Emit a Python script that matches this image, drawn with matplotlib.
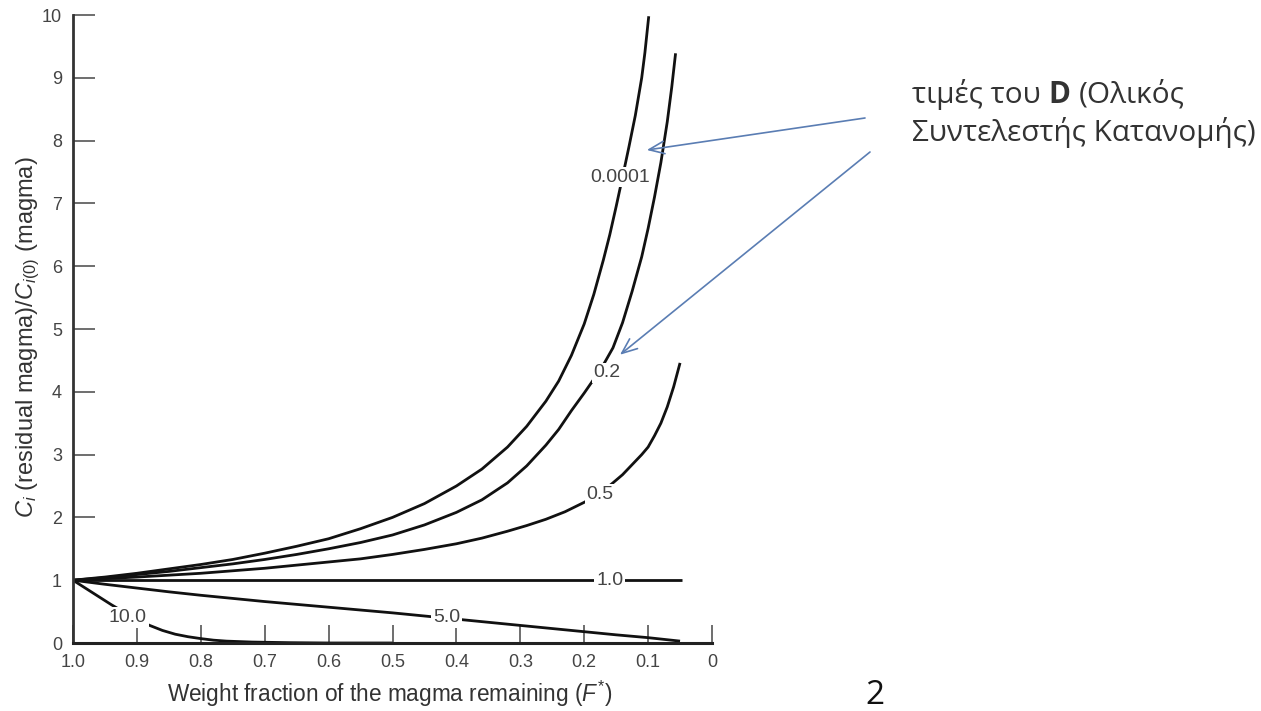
import matplotlib
matplotlib.use("Agg")
import matplotlib.pyplot as plt

# ---------------- data ----------------
F_d00001 = [1.0, 0.95, 0.9, 0.85, 0.8, 0.75, 0.7, 0.65, 0.6, 0.55, 0.5, 0.45, 0.4, 0.36, 0.32,
            0.29, 0.26, 0.24, 0.22, 0.2, 0.185, 0.17, 0.16, 0.15, 0.14, 0.13, 0.12, 0.11, 0.105, 0.099]
C_d00001 = [1.0, 1.05, 1.11, 1.18, 1.25, 1.33, 1.43, 1.54, 1.66, 1.82, 2.0, 2.22, 2.5, 2.77, 3.12,
            3.45, 3.85, 4.17, 4.58, 5.08, 5.55, 6.1, 6.5, 6.95, 7.42, 7.9, 8.4, 9.0, 9.4, 9.98]

F_d02 = [1.0, 0.95, 0.9, 0.85, 0.8, 0.75, 0.7, 0.65, 0.6, 0.55, 0.5, 0.45, 0.4, 0.36, 0.32, 0.29,
         0.26, 0.24, 0.22, 0.2, 0.185, 0.17, 0.155, 0.14, 0.125, 0.11, 0.1, 0.09, 0.08, 0.07, 0.063, 0.057]
C_d02 = [1.0, 1.04, 1.09, 1.14, 1.2, 1.26, 1.33, 1.41, 1.5, 1.6, 1.72, 1.88, 2.08, 2.28, 2.55, 2.82,
         3.15, 3.4, 3.7, 3.98, 4.2, 4.43, 4.7, 5.1, 5.6, 6.15, 6.6, 7.1, 7.65, 8.3, 8.85, 9.39]

F_d05 = [1.0, 0.95, 0.9, 0.85, 0.8, 0.75, 0.7, 0.65, 0.6, 0.55, 0.5, 0.45, 0.4, 0.36, 0.32, 0.29,
         0.26, 0.23, 0.2, 0.175, 0.155, 0.14, 0.125, 0.11, 0.1, 0.09, 0.08, 0.07, 0.06, 0.05]
C_d05 = [1.0, 1.025, 1.05, 1.08, 1.11, 1.15, 1.19, 1.24, 1.29, 1.34, 1.41, 1.49, 1.58, 1.67, 1.78, 1.87,
         1.97, 2.09, 2.24, 2.38, 2.55, 2.68, 2.84, 3.0, 3.12, 3.3, 3.5, 3.76, 4.08, 4.46]

F_d1 = [1.0, 0.047]
C_d1 = [1.0, 1.0]

F_d5 = [1.0, 0.95, 0.9, 0.85, 0.8, 0.75, 0.7, 0.65, 0.6, 0.55, 0.5, 0.45, 0.4, 0.35, 0.3, 0.25,
        0.2, 0.15, 0.1, 0.05]
C_d5 = [1.0, 0.935, 0.875, 0.815, 0.76, 0.71, 0.66, 0.615, 0.57, 0.525, 0.48, 0.43, 0.38, 0.33, 0.28, 0.23,
        0.18, 0.13, 0.085, 0.03]

F_d10 = [1.0, 0.98, 0.96, 0.94, 0.92, 0.9, 0.88, 0.86, 0.84, 0.82, 0.8, 0.78, 0.76, 0.72, 0.66, 0.6, 0.5]
C_d10 = [1.0, 0.87, 0.74, 0.61, 0.49, 0.38, 0.28, 0.2, 0.14, 0.1, 0.07, 0.045, 0.03, 0.015, 0.005, 0.0, 0.0]

curve_labels = ["0.0001", "0.2", "0.5", "1.0", "5.0", "10.0"]
label_F = [0.144, 0.164, 0.175, 0.160, 0.415, 0.914]
label_C = [7.42, 4.30, 2.36, 1.0, 0.41, 0.40]

x_ticks = [1.0, 0.9, 0.8, 0.7, 0.6, 0.5, 0.4, 0.3, 0.2, 0.1, 0.0]
x_ticklabels = ["1.0", "0.9", "0.8", "0.7", "0.6", "0.5", "0.4", "0.3", "0.2", "0.1", "0"]
y_ticks = [0, 1, 2, 3, 4, 5, 6, 7, 8, 9, 10]
y_ticklabels = ["0", "1", "2", "3", "4", "5", "6", "7", "8", "9", "10"]

# arrow tips (data) for the D-values annotation
arrow_tip_F = [0.102, 0.144]
arrow_tip_C = [7.85, 4.59]

# ---------------- figure ----------------
plt.rcParams["mathtext.fontset"] = "custom"
plt.rcParams["mathtext.rm"] = "Liberation Sans"
plt.rcParams["mathtext.it"] = "Liberation Sans:italic"
plt.rcParams["font.family"] = ["Liberation Sans", "DejaVu Sans"]

W, H = 1261, 711
fig = plt.figure(figsize=(W / 100, H / 100), dpi=100)
fig.patch.set_facecolor("white")
ax = fig.add_axes([73 / W, (H - 643) / H, (712 - 73) / W, (643 - 15) / H])

line_kw = dict(color="#111111", lw=2.0, solid_capstyle="butt", solid_joinstyle="round", zorder=2)
for Fv, Cv in [(F_d00001, C_d00001), (F_d02, C_d02), (F_d05, C_d05),
               (F_d1, C_d1), (F_d5, C_d5), (F_d10, C_d10)]:
    ax.plot(Fv, Cv, **line_kw)

for lab, fx, cy in zip(curve_labels, label_F, label_C):
    ax.text(fx, cy, lab, ha="center", va="center", fontsize=14, color="#444444",
            zorder=3, bbox=dict(boxstyle="square,pad=0.1", fc="white", ec="none"))

ax.set_xlim(1.0, 0.0)
ax.set_ylim(0, 10)
ax.set_xticks(x_ticks)
ax.set_xticklabels(x_ticklabels)
ax.set_yticks(y_ticks)
ax.set_yticklabels(y_ticklabels)
for s in ["top", "right"]:
    ax.spines[s].set_visible(False)
ax.spines["left"].set_linewidth(2.0)
ax.spines["bottom"].set_linewidth(2.2)
ax.spines["left"].set_color("#333333")
ax.spines["bottom"].set_color("#222222")
ax.tick_params(axis="y", direction="in", length=16, width=1.2, colors="#555555",
               labelsize=13, pad=8, labelcolor="#444444")
ax.tick_params(axis="x", direction="in", length=13, width=1.2, colors="#555555",
               labelsize=13, pad=8, labelcolor="#444444")

# axis titles
fig.text(390 / W, 1 - 694 / H, "Weight fraction of the magma remaining ($F^{*}$)",
         ha="center", va="center", fontsize=16.3, color="#333333")
fig.text(28 / W, 1 - 337 / H, "$C_{i}$ (residual magma)/$C_{i(0)}$ (magma)",
         ha="center", va="center", rotation=90, fontsize=17, color="#333333")

# Greek annotation text (fit width of the second line)
gfam = ["Open Sans", "DejaVu Sans"]
gcol = "#333333"
fig.canvas.draw()
r = fig.canvas.get_renderer()
probe = fig.text(0, 0, "Συντελεστής Κατανομής)", fontsize=16, family=gfam)
wp = probe.get_window_extent(r).width
probe.remove()
gfs = 16 * 345.0 / wp

x0 = 912
y1 = H - 95
y2 = H - 133


def piece(xp, yp, s, weight="normal"):
    t = fig.text(xp / W, yp / H, s, ha="left", va="center", fontsize=gfs,
                 family=gfam, color=gcol, fontweight=weight)
    return t.get_window_extent(r).width


def space_w(weight="normal"):
    a = fig.text(0, 0, "x x", fontsize=gfs, family=gfam, fontweight=weight)
    b = fig.text(0, 0, "xx", fontsize=gfs, family=gfam, fontweight=weight)
    w = a.get_window_extent(r).width - b.get_window_extent(r).width
    a.remove()
    b.remove()
    return w


sw = space_w()
xp = x0
xp += piece(xp, y1, "τιμές του") + sw
xp += piece(xp, y1, "D", "bold") + sw
piece(xp, y1, "(Ολικός")
piece(x0, y2, "Συντελεστής Κατανομής)")

# arrows
arrow_col = "#5a7db3"
tails_px = [(865, H - 118), (870, H - 152)]
for fx, cy, (tx, ty) in zip(arrow_tip_F, arrow_tip_C, tails_px):
    ax.annotate("", xy=(fx, cy), xycoords="data", xytext=(tx, ty),
                textcoords="figure pixels",
                arrowprops=dict(arrowstyle="->,head_length=1.1,head_width=0.45",
                                color=arrow_col, lw=1.2, shrinkA=0, shrinkB=0),
                annotation_clip=False, zorder=5)

# page number
fig.text(875 / W, 1 - 695 / H, "2", ha="center", va="center", fontsize=24,
         family=gfam, color="#111111")

fig.savefig("out.png", dpi=100, facecolor="white")
